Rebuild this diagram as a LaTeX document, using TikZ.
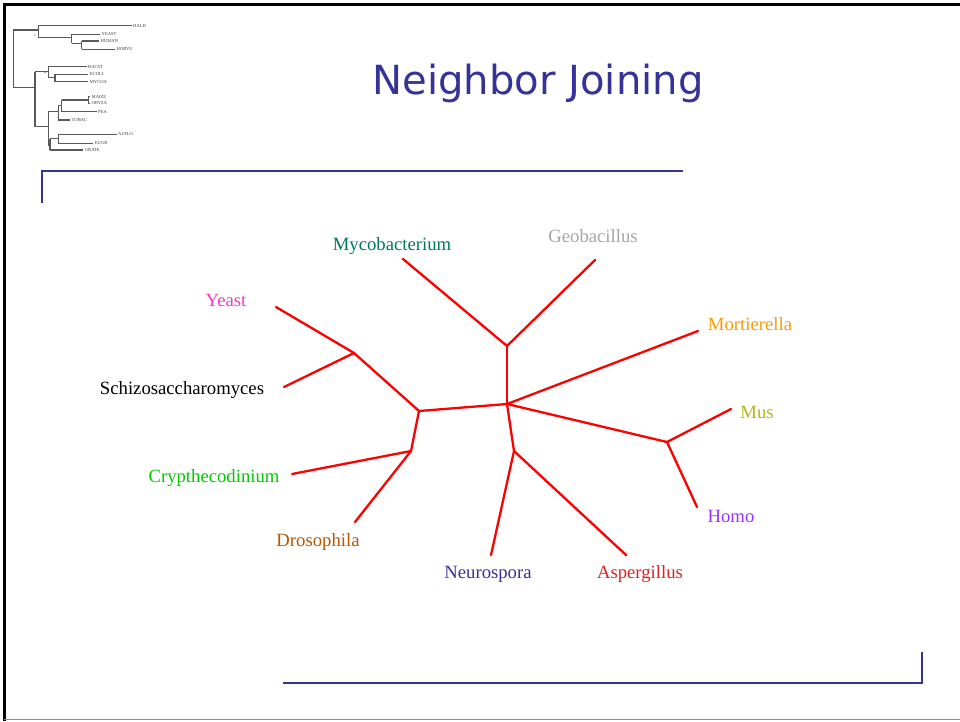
\documentclass[tikz,border=0pt]{standalone}
\usepackage{fontspec}
\setmainfont{Liberation Serif}
\newfontfamily\titlefont{DejaVu Sans}
\definecolor{slideblue}{HTML}{333399}
\definecolor{cMyco}{HTML}{007766}
\definecolor{cGeo}{HTML}{A6A6A6}
\definecolor{cYeast}{HTML}{FF33CC}
\definecolor{cMort}{HTML}{FF9900}
\definecolor{cMus}{HTML}{B5B514}
\definecolor{cCryp}{HTML}{00CC00}
\definecolor{cDros}{HTML}{BB5500}
\definecolor{cHomo}{HTML}{9933FF}
\definecolor{cNeur}{HTML}{333399}
\definecolor{cAsp}{HTML}{DD2222}
\begin{document}
\begin{tikzpicture}[x=1pt,y=-1pt,
  branch/.style={draw=red,line width=2.3pt,line cap=round,line join=round},
  taxon/.style={anchor=base,inner sep=0pt,font=\fontsize{18.7}{20}\selectfont},
  mini/.style={draw=black!65,line width=1.3pt},
  minilab/.style={anchor=west,inner sep=0pt,font=\fontsize{4.6}{5}\selectfont,text=black!75},
  rule/.style={draw=slideblue,line width=2.8pt}]
\useasboundingbox (0,0) rectangle (960,721);
\fill[white] (0,0) rectangle (960,721);
% slide frame
\draw[black,line width=3pt] (4,721) -- (4,4) -- (960,4);
\draw[black!45,line width=1.5pt] (4,719.5) -- (960,719.5);
% title
\node[anchor=base,inner sep=0pt,text=slideblue] (title) at (538,94)
  {\resizebox{331pt}{!}{\titlefont Neighbor Joining}};
% blue rules
\coordinate (r1a) at (42,203); \coordinate (r1b) at (42,171); \coordinate (r1c) at (683,171);
\draw[rule] (r1a) -- (r1b) -- (r1c);
\coordinate (r2a) at (283,683); \coordinate (r2b) at (922,683); \coordinate (r2c) at (922,652);
\draw[rule] (r2a) -- (r2b) -- (r2c);
% mini tree logo
\draw[mini] (13.3,30) -- (13.3,87.7);
\draw[mini] (13.3,30) -- (38.3,30);
\draw[mini] (38.3,25.7) -- (38.3,37.7);
\draw[mini] (38.3,25.7) -- (131.7,25.7);
\draw[mini] (38.3,37.7) -- (71.7,37.7);
\draw[mini] (71.7,34.3) -- (71.7,43.3);
\draw[mini] (71.7,34.3) -- (100,34.3);
\draw[mini] (71.7,43.3) -- (81.7,43.3);
\draw[mini] (81.7,41) -- (81.7,49.3);
\draw[mini] (81.7,41) -- (99,41);
\draw[mini] (81.7,49.3) -- (115,49.3);
\draw[mini] (13.3,87.7) -- (35,87.7);
\draw[mini] (35,71.7) -- (35,126.7);
\draw[mini] (35,71.7) -- (48.3,71.7);
\draw[mini] (48.3,66.7) -- (48.3,77.7);
\draw[mini] (48.3,66.7) -- (86.7,66.7);
\draw[mini] (48.3,77.7) -- (55,77.7);
\draw[mini] (55,74.3) -- (55,81.7);
\draw[mini] (55,74.3) -- (88.3,74.3);
\draw[mini] (55,81.7) -- (88.3,81.7);
\draw[mini] (35,126.7) -- (48.3,126.7);
\draw[mini] (48.3,111.7) -- (48.3,145);
\draw[mini] (48.3,111.7) -- (58.3,111.7);
\draw[mini] (58.3,105.8) -- (58.3,120);
\draw[mini] (58.3,105.8) -- (61.7,105.8);
\draw[mini] (61.7,100) -- (61.7,111.7);
\draw[mini] (61.7,100) -- (88.3,100);
\draw[mini] (88.3,96.7) -- (88.3,103.3);
\draw[mini] (88.3,96.7) -- (90,96.7);
\draw[mini] (88.3,103.3) -- (90,103.3);
\draw[mini] (61.7,111.7) -- (96.7,111.7);
\draw[mini] (58.3,120) -- (70,120);
\draw[mini] (48.3,145) -- (50,145);
\draw[mini] (50,138.8) -- (50,150);
\draw[mini] (50,138.8) -- (58.3,138.8);
\draw[mini] (58.3,134.3) -- (58.3,143.3);
\draw[mini] (58.3,134.3) -- (116.7,134.3);
\draw[mini] (58.3,143.3) -- (93.3,143.3);
\draw[mini] (50,150) -- (83.3,150);
\fill[black!70] (35,35) circle (0.7) (45,72.5) circle (0.7) (58,118) circle (0.7);
\node[minilab] (lHALH) at (133,25.7) {HALH};
\node[minilab] (lYEAST) at (101.5,34.3) {YEAST};
\node[minilab] (lHUMAN) at (100.5,41) {HUMAN};
\node[minilab] (lHORVU) at (116.5,49.3) {HORVU};
\node[minilab] (lBACST) at (88,66.7) {BACST};
\node[minilab] (lECOLI) at (89.7,74.3) {ECOLI};
\node[minilab] (lMYCOA) at (89.7,81.7) {MYCOA};
\node[minilab] (lMAIZE) at (91.5,96.7) {MAIZE};
\node[minilab] (lORYSA) at (91.5,103.3) {ORYSA};
\node[minilab] (lPEA) at (98,111.7) {PEA};
\node[minilab] (lTOBAC) at (71.5,120) {TOBAC};
\node[minilab] (lASTLO) at (118,134.3) {ASTLO};
\node[minilab] (lEUGR) at (94.7,143.3) {EUGR};
\node[minilab] (lGRATE) at (84.7,150) {GRATE};
% main tree: internal nodes
\coordinate (c0) at (507,404);
\coordinate (nMG) at (507,346);
\coordinate (nMH) at (667,442);
\coordinate (nNA) at (514,451);
\coordinate (nL) at (419,411);
\coordinate (nYS) at (354,353);
\coordinate (nCD) at (411,451);
% tips
\coordinate (tMyco) at (403,259);
\coordinate (tGeo) at (595,260);
\coordinate (tMort) at (698,331);
\coordinate (tMus) at (731,409);
\coordinate (tHomo) at (697,507);
\coordinate (tNeur) at (491,555);
\coordinate (tAsp) at (626,555);
\coordinate (tYeast) at (276,307);
\coordinate (tSchi) at (284,387);
\coordinate (tCryp) at (292,474);
\coordinate (tDros) at (355,522);
% branches
\draw[branch] (c0) -- (nMG);
\draw[branch] (nMG) -- (tMyco);
\draw[branch] (nMG) -- (tGeo);
\draw[branch] (c0) -- (tMort);
\draw[branch] (c0) -- (nMH);
\draw[branch] (nMH) -- (tMus);
\draw[branch] (nMH) -- (tHomo);
\draw[branch] (c0) -- (nNA);
\draw[branch] (nNA) -- (tNeur);
\draw[branch] (nNA) -- (tAsp);
\draw[branch] (c0) -- (nL);
\draw[branch] (nL) -- (nYS);
\draw[branch] (nYS) -- (tYeast);
\draw[branch] (nYS) -- (tSchi);
\draw[branch] (nL) -- (nCD);
\draw[branch] (nCD) -- (tCryp);
\draw[branch] (nCD) -- (tDros);
% taxon labels
\node[taxon,text=cMyco] (Myco) at (392,250) {Mycobacterium};
\node[taxon,text=cGeo] (Geo) at (593,242) {Geobacillus};
\node[taxon,text=cYeast] (Yeast) at (226,306) {Yeast};
\node[taxon,text=cMort] (Mort) at (750,330) {Mortierella};
\node[taxon,text=black] (Schi) at (182,394) {Schizosaccharomyces};
\node[taxon,text=cMus] (Mus) at (757,418) {Mus};
\node[taxon,text=cCryp] (Cryp) at (214,482) {Crypthecodinium};
\node[taxon,text=cDros] (Dros) at (318,546) {Drosophila};
\node[taxon,text=cHomo] (Homo) at (731,522) {Homo};
\node[taxon,text=cNeur] (Neur) at (488,578) {Neurospora};
\node[taxon,text=cAsp] (Asp) at (640,578) {Aspergillus};
\end{tikzpicture}
\end{document}
